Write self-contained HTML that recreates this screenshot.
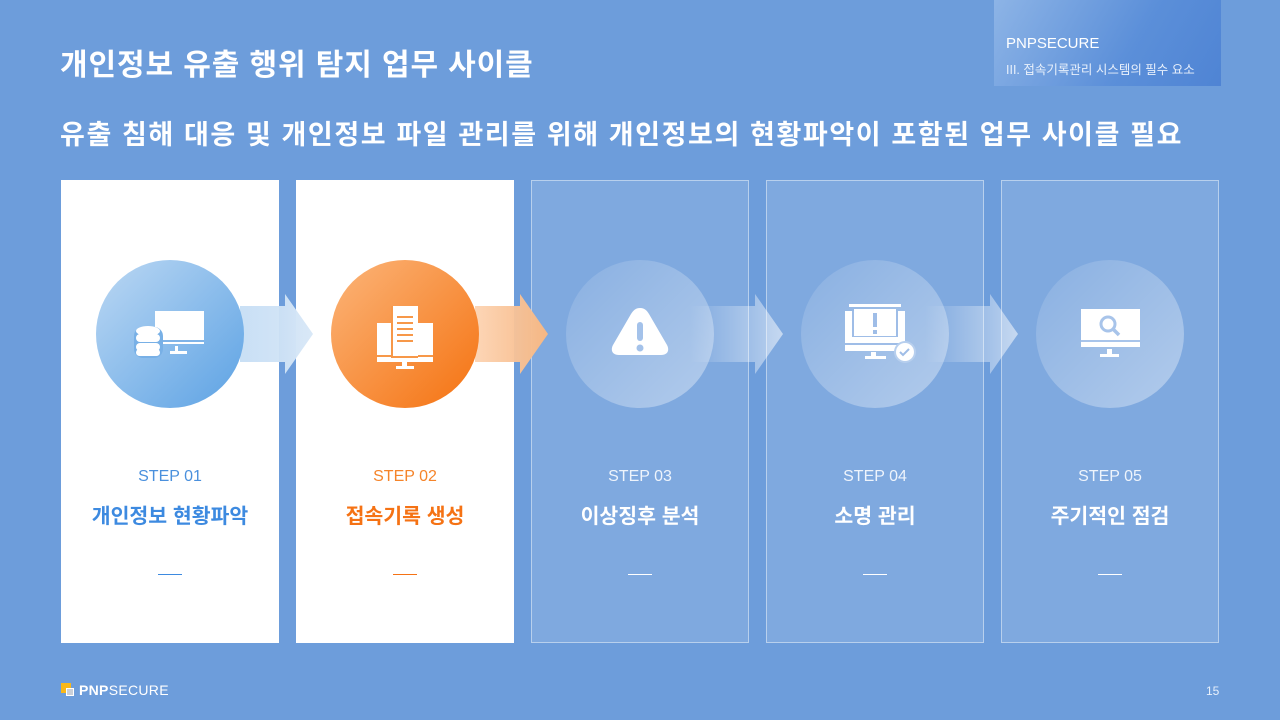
<!DOCTYPE html>
<html><head><meta charset="utf-8"><style>
*{margin:0;padding:0;box-sizing:border-box}
body{width:1280px;height:720px;overflow:hidden;background:#6d9ddb;font-family:"Liberation Sans","Noto Sans CJK KR",sans-serif;position:relative;color:#fff}
.abs{position:absolute}
.card{position:absolute;top:180px;width:218px;height:463px}
.w{background:#fff}
.t{background:rgba(255,255,255,0.13);border:1px solid rgba(255,255,255,0.45)}
.step{position:absolute;top:468px;width:218px;text-align:center;font-size:16px}
.name{position:absolute;top:499px;width:218px;text-align:center;font-size:20.5px;font-weight:bold}
.dash{position:absolute;top:574px;width:24px;height:1px}
</style></head><body>
<div class="abs" style="left:994px;top:0;width:227px;height:86px;background:linear-gradient(120deg,#8db4e6 0%,#5b8fd9 60%,#4f84d4 100%)"></div>
<div class="abs" style="left:1006px;top:35px;font-size:15px">PNPSECURE</div>
<div class="abs" style="left:1006px;top:59px;font-size:12.5px;color:#e8f0fb">III. 접속기록관리 시스템의 필수 요소</div>
<div class="abs" style="left:60px;top:40px;font-size:30px;font-weight:bold;letter-spacing:0.9px">개인정보 유출 행위 탐지 업무 사이클</div>
<div class="abs" style="left:60px;top:113px;font-size:27px;font-weight:bold;letter-spacing:1.6px;white-space:nowrap">유출 침해 대응 및 개인정보 파일 관리를 위해 개인정보의 현황파악이 포함된 업무 사이클 필요</div>

<div class="card w" style="left:61px"></div>
<div class="card w" style="left:296px"></div>
<div class="card t" style="left:531px"></div>
<div class="card t" style="left:766px"></div>
<div class="card t" style="left:1001px"></div>

<svg class="abs" style="left:0;top:0" width="1280" height="720">
<defs>
<linearGradient id="gb" x1="0" y1="0" x2="1" y2="1"><stop offset="0" stop-color="#bcd8f3"/><stop offset="1" stop-color="#5ca2e4"/></linearGradient>
<linearGradient id="go" x1="0" y1="0" x2="1" y2="1"><stop offset="0" stop-color="#fbb57a"/><stop offset="1" stop-color="#f57210"/></linearGradient>
<linearGradient id="gt" x1="0" y1="0" x2="1" y2="1"><stop offset="0" stop-color="#fff" stop-opacity="0.08"/><stop offset="1" stop-color="#fff" stop-opacity="0.4"/></linearGradient>
<linearGradient id="ab" x1="0" x2="1"><stop offset="0" stop-color="#c3dcf4" stop-opacity="0.9"/><stop offset="1" stop-color="#d9e8f7"/></linearGradient>
<linearGradient id="ao" x1="0" x2="1"><stop offset="0" stop-color="#fcd1ae" stop-opacity="0.9"/><stop offset="1" stop-color="#f6b783"/></linearGradient>
<linearGradient id="aw" x1="0" x2="1"><stop offset="0" stop-color="#fff" stop-opacity="0"/><stop offset="1" stop-color="#fff" stop-opacity="0.55"/></linearGradient>
</defs>
<path d="M240 306H285V294L313 334L285 374V362H240Z" fill="url(#ab)"/>
<path d="M475 306H520V294L548 334L520 374V362H475Z" fill="url(#ao)"/>
<path d="M690 306H755V294L783 334L755 374V362H690Z" fill="url(#aw)"/>
<path d="M925 306H990V294L1018 334L990 374V362H925Z" fill="url(#aw)"/>
<circle cx="170" cy="334" r="74" fill="url(#gb)"/>
<circle cx="405" cy="334" r="74" fill="url(#go)"/>
<circle cx="640" cy="334" r="74" fill="url(#gt)"/>
<circle cx="875" cy="334" r="74" fill="url(#gt)"/>
<circle cx="1110" cy="334" r="74" fill="url(#gt)"/>
<g fill="#fff">
<rect x="155" y="311" width="49" height="33"/><rect x="175" y="346" width="3" height="5"/><rect x="170" y="351" width="17" height="3"/>
<rect x="155" y="340" width="49" height="2" fill="#7fb3e7"/>
<rect x="134" y="327" width="29" height="31" rx="9" fill="#78b0e6"/>
<ellipse cx="148" cy="331" rx="12" ry="5"/>
<rect x="136" y="334" width="24" height="8" rx="4"/>
<rect x="136" y="343" width="24" height="8" rx="4"/>
<rect x="136" y="349" width="24" height="7" rx="3.5"/>
<rect x="377" y="323" width="56" height="39"/><rect x="377" y="355" width="56" height="2" fill="#f79849"/><rect x="402" y="362" width="5" height="5"/><rect x="396" y="366" width="18" height="3"/>
<rect x="391" y="306" width="27" height="52" fill="#f79849"/><rect x="393" y="306" width="25" height="50"/>
<g fill="#f79849"><rect x="397" y="316" width="16" height="2"/><rect x="397" y="322" width="16" height="2"/><rect x="397" y="328" width="16" height="2"/><rect x="397" y="334" width="16" height="2"/><rect x="397" y="340" width="16" height="2"/></g>
<path d="M640 308c5 0 7 3 9 6l18 31c3 6 0 10-6 10h-42c-6 0-9-4-6-10l18-31c2-3 4-6 9-6z"/>
<rect x="637" y="322" width="6" height="19" rx="3" fill="#a4c2ea"/><circle cx="640" cy="348" r="3.5" fill="#a4c2ea"/>
<rect x="845" y="311" width="60" height="40"/><rect x="849" y="304" width="52" height="3"/>
<rect x="852" y="311" width="46" height="26" fill="#9fbde7"/><rect x="854" y="309" width="42" height="27"/>
<rect x="873" y="313" width="4" height="14" fill="#9fbde7"/><rect x="873" y="330" width="4" height="4" fill="#9fbde7"/>
<rect x="845" y="343" width="60" height="2" fill="#9fbde7"/>
<rect x="871" y="352" width="5" height="5"/><rect x="865" y="356" width="21" height="3"/>
<circle cx="905" cy="352" r="11" fill="#b7cfee"/><circle cx="905" cy="352" r="9"/>
<path d="M900 352l3 3 6-6" stroke="#9fbde7" stroke-width="2" fill="none"/>
<rect x="1081" y="309" width="59" height="38"/><rect x="1081" y="340" width="59" height="2" fill="#a8c4ea"/>
<rect x="1107" y="349" width="5" height="5"/><rect x="1100" y="354" width="19" height="3"/>
<circle cx="1108" cy="324" r="7" fill="none" stroke="#a8c4ea" stroke-width="3"/>
<line x1="1113" y1="329" x2="1119" y2="335" stroke="#a8c4ea" stroke-width="3.5"/>
</g>
</svg>

<div class="step" style="left:61px;color:#4a90dd">STEP 01</div>
<div class="name" style="left:61px;color:#3d8ae0">개인정보 현황파악</div>
<div class="dash" style="left:158px;background:#3d8ae0"></div>
<div class="step" style="left:296px;color:#f5842a">STEP 02</div>
<div class="name" style="left:296px;color:#f57214">접속기록 생성</div>
<div class="dash" style="left:393px;background:#f57214"></div>
<div class="step" style="left:531px;color:#eef4fc">STEP 03</div>
<div class="name" style="left:531px">이상징후 분석</div>
<div class="dash" style="left:628px;background:#fff"></div>
<div class="step" style="left:766px;color:#eef4fc">STEP 04</div>
<div class="name" style="left:766px">소명 관리</div>
<div class="dash" style="left:863px;background:#fff"></div>
<div class="step" style="left:1001px;color:#eef4fc">STEP 05</div>
<div class="name" style="left:1001px">주기적인 점검</div>
<div class="dash" style="left:1098px;background:#fff"></div>

<div class="abs" style="left:61px;top:683px;width:10px;height:10px;background:#f9b81a"></div>
<div class="abs" style="left:66px;top:688px;width:8px;height:8px;background:#c9cfd8;border:1px solid #fff"></div>
<div class="abs" style="left:79px;top:682px;font-size:14px;letter-spacing:0.3px"><b>PNP</b>SECURE</div>
<div class="abs" style="left:1206px;top:684px;font-size:12px;color:#e8f0fb">15</div>
</body></html>
